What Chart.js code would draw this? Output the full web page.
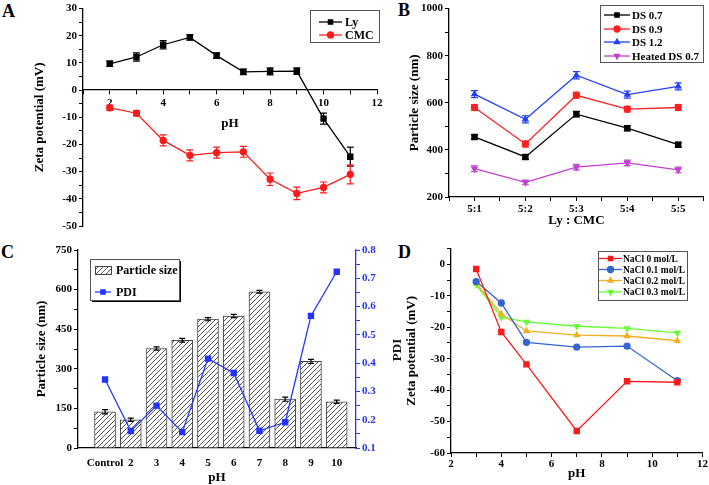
<!DOCTYPE html>
<html>
<head>
<meta charset="utf-8">
<script src="https://cdn.jsdelivr.net/npm/chart.js@4.4.0/dist/chart.umd.min.js"></script>
<style>
body { margin: 0; background: #fff; width: 709px; height: 485px; position: relative; overflow: hidden; }
canvas { position: absolute; }
.tag { position: absolute; font: bold 18px 'Liberation Serif', serif; line-height: 18px; }
.side { position: absolute; font: bold 13px 'Liberation Serif', serif; color: #111; transform: rotate(-90deg); transform-origin: center; white-space: nowrap; }
</style>
</head>
<body>
<div class="tag" style="left:2px;top:2px">A</div>
<div class="tag" style="left:398px;top:1px">B</div>
<div class="tag" style="left:1px;top:243px">C</div>
<div class="tag" style="left:398px;top:243px">D</div>

<canvas id="chartA" width="385" height="240" style="left:0;top:0"></canvas>
<canvas id="chartB" width="349" height="240" style="left:360px;top:0"></canvas>
<canvas id="chartC" width="405" height="245" style="left:0;top:240px"></canvas>
<canvas id="chartD" width="329" height="245" style="left:380px;top:240px"></canvas>
<div class="side" style="left:385px;top:342px;width:24px;text-align:center">PDI</div>

<script>
// ---- Panel A: zeta potential vs pH
const phA = [2, 3, 4, 5, 6, 7, 8, 9, 10, 11];
const lyZeta = [9.7, 12.2, 16.7, 19.4, 12.7, 6.7, 6.9, 7.0, -10.5, -24.5];
const lyErr = [1, 1.5, 1.5, 1, 1, 1, 1.3, 1.2, 2, 3.5];
const cmcZeta = [-6.5, -8.5, -18.5, -24, -23, -22.7, -32.8, -38, -35.8, -31];
const cmcErr = [1, 1, 2, 2, 2, 2, 2.3, 2.3, 2, 3.5];

// ---- Panel B: particle size vs Ly : CMC ratio
const ratioLabels = ['5:1', '5:2', '5:3', '5:4', '5:5'];
const ds07 = [455, 370, 552, 492, 422];
const ds07Err = [10, 10, 12, 10, 10];
const ds09 = [580, 425, 632, 573, 580];
const ds09Err = [12, 12, 12, 12, 12];
const ds12 = [637, 530, 717, 635, 670];
const ds12Err = [15, 15, 15, 15, 15];
const heated07 = [320, 262, 327, 345, 315];
const heated07Err = [12, 10, 12, 12, 12];

// ---- Panel C: particle size bars + PDI line
const phLabelsC = ['Control', '2', '3', '4', '5', '6', '7', '8', '9', '10'];
const sizeC = [137, 107, 377, 408, 488, 500, 592, 185, 328, 175];
const sizeErr = [8, 6, 6, 7, 6, 6, 5, 8, 8, 6];
const pdiC = [0.342, 0.16, 0.25, 0.156, 0.416, 0.365, 0.161, 0.191, 0.567, 0.723];

// ---- Panel D: zeta potential with NaCl
const phD = [3, 4, 5, 7, 9, 11];
const nacl0 = [-1.5, -21.5, -31.8, -53, -37.2, -37.5];
const nacl01 = [-5.5, -12.3, -24.8, -26.3, -26, -37];
const nacl02 = [-6, -15.8, -21.2, -22.5, -22.8, -24.3];
const nacl03 = [-6.5, -16.8, -18.3, -19.7, -20.4, -21.8];

Chart.defaults.font.family = "'Liberation Serif', 'Times New Roman', serif";
Chart.defaults.font.weight = 'bold';
Chart.defaults.font.size = 11;
Chart.defaults.color = '#000';

const pts = (xs, ys) => xs.map((x, i) => ({ x: x, y: ys[i] }));

// hatch fill for the bars
function makeHatch() {
    const c = document.createElement('canvas');
    c.width = 5; c.height = 5;
    const g = c.getContext('2d');
    g.fillStyle = '#fff';
    g.fillRect(0, 0, 5, 5);
    g.strokeStyle = '#555';
    g.lineWidth = 1;
    g.beginPath();
    g.moveTo(0, 5); g.lineTo(5, 0);
    g.moveTo(-1, 1); g.lineTo(1, -1);
    g.moveTo(4, 6); g.lineTo(6, 4);
    g.stroke();
    return document.getElementById('chartC').getContext('2d').createPattern(c, 'repeat');
}
const hatch = makeHatch();

// error bars from dataset.errors
const errorBars = {
    id: 'errorBars',
    afterDatasetsDraw(chart) {
        const ctx = chart.ctx;
        chart.data.datasets.forEach((ds, i) => {
            if (!ds.errors) return;
            const meta = chart.getDatasetMeta(i);
            const yScale = chart.scales[meta.yAxisID];
            ctx.save();
            ctx.strokeStyle = ds.errorColor || ds.borderColor;
            ctx.lineWidth = 1.2;
            meta.data.forEach((el, j) => {
                const d = ds.data[j];
                const v = typeof d === 'object' ? d.y : d;
                const e = ds.errors[j];
                const x = el.x;
                const y1 = yScale.getPixelForValue(v + e);
                const y2 = yScale.getPixelForValue(v - e);
                const cap = ds.capWidth || 3.5;
                ctx.beginPath();
                ctx.moveTo(x, y1); ctx.lineTo(x, y2);
                ctx.moveTo(x - cap, y1); ctx.lineTo(x + cap, y1);
                ctx.moveTo(x - cap, y2); ctx.lineTo(x + cap, y2);
                ctx.stroke();
            });
            ctx.restore();
        });
    }
};

// boxed legend placed in page coordinates
const boxLegend = {
    id: 'boxLegend',
    afterDraw(chart, args, o) {
        if (!o || !o.rows) return;
        const ctx = chart.ctx;
        const ox = chart.canvas.offsetLeft, oy = chart.canvas.offsetTop;
        ctx.save();
        ctx.translate(-ox, -oy);
        if (o.shadow) {
            ctx.fillStyle = '#000';
            ctx.fillRect(o.x + 2, o.y + 2, o.w, o.h);
        }
        ctx.fillStyle = '#fff';
        ctx.fillRect(o.x, o.y, o.w, o.h);
        ctx.strokeStyle = '#555';
        ctx.lineWidth = 1;
        ctx.strokeRect(o.x + 0.5, o.y + 0.5, o.w, o.h);
        chart.data.datasets.forEach((ds, i) => {
            const yy = o.rows[i];
            if (ds.type === 'bar' || (!ds.type && chart.config.type === 'bar')) {
                ctx.fillStyle = ds.backgroundColor;
                ctx.fillRect(o.lineX, yy - 4, o.lineLen, 8);
                ctx.strokeStyle = ds.borderColor;
                ctx.strokeRect(o.lineX + 0.5, yy - 3.5, o.lineLen, 8);
            } else {
                ctx.strokeStyle = ds.borderColor;
                ctx.lineWidth = 1.3;
                ctx.beginPath();
                ctx.moveTo(o.lineX, yy);
                ctx.lineTo(o.lineX + o.lineLen, yy);
                ctx.stroke();
                ctx.fillStyle = ds.backgroundColor;
                Chart.helpers.drawPoint(ctx, {
                    pointStyle: ds.pointStyle, radius: 3, rotation: ds.pointRotation || 0, borderWidth: 1
                }, o.lineX + o.lineLen / 2, yy);
            }
            ctx.fillStyle = '#000';
            ctx.font = 'bold ' + o.fontSize + "px 'Liberation Serif', serif";
            ctx.textBaseline = 'middle';
            ctx.fillText(ds.label, o.textX, yy + 1);
        });
        ctx.restore();
    }
};

function axis(extra) {
    return Object.assign({
        type: 'linear',
        border: { color: '#000', width: 1.3 },
        grid: { drawOnChartArea: false, tickLength: 4, color: '#000' }
    }, extra);
}

function title(text, pad) {
    return { display: true, text: text, font: { size: 13, weight: 'bold' }, padding: pad };
}

const baseOptions = (padding, scales, legend) => ({
    responsive: false,
    animation: false,
    layout: { padding: padding },
    scales: scales,
    plugins: { legend: { display: false }, tooltip: { enabled: false }, boxLegend: legend }
});

function lineSet(label, xs, ys, color, style, errors, rotation) {
    return {
        label: label,
        data: pts(xs, ys),
        borderColor: color,
        backgroundColor: color,
        borderWidth: 1.3,
        pointStyle: style,
        pointRotation: rotation || 0,
        pointRadius: style === 'rect' ? 3.6 : 3,
        errors: errors,
        clip: false
    };
}

// ---- A
new Chart(document.getElementById('chartA'), {
    type: 'line',
    data: {
        datasets: [
            lineSet('Ly', phA, lyZeta, '#000', 'rect', lyErr),
            lineSet('CMC', phA, cmcZeta, '#ff1a1a', 'circle', cmcErr)
        ]
    },
    options: baseOptions({ left: 0, top: 7, right: 8, bottom: 14 }, {
        x: axis({
            position: { y: 0 }, min: 1, max: 12,
            ticks: { stepSize: 1, autoSkip: false, maxRotation: 0, padding: 2,
                callback: v => (v % 2 === 0 ? v : '') },
            title: title('pH', { top: 0, bottom: 4 }),
            afterFit: s => { s.height = 45; }
        }),
        y: axis({
            min: -50, max: 30,
            ticks: { stepSize: 5, autoSkip: false, padding: 2,
                callback: v => (v % 10 === 0 ? v : '') },
            title: title('Zeta potential (mV)', { top: 32, bottom: 0 }),
            afterFit: s => { s.width = 83; }
        })
    }, { x: 310, y: 10, w: 69, h: 32, rows: [22, 35], lineX: 319, lineLen: 23, textX: 345, fontSize: 12 }),
    plugins: [errorBars, boxLegend]
});

// ---- B
const ratioX = ratioLabels.map((r, i) => i + 1);
new Chart(document.getElementById('chartB'), {
    type: 'line',
    data: {
        datasets: [
            lineSet('DS 0.7', ratioX, ds07, '#000', 'rect', ds07Err),
            lineSet('DS 0.9', ratioX, ds09, '#ff2020', 'circle', ds09Err),
            lineSet('DS 1.2', ratioX, ds12, '#2040ff', 'triangle', ds12Err),
            lineSet('Heated DS 0.7', ratioX, heated07, '#c040d0', 'triangle', heated07Err, 180)
        ]
    },
    options: baseOptions({ left: 0, top: 5, right: 1, bottom: 0 }, {
        x: axis({
            min: 0.5, max: 5.5,
            ticks: { stepSize: 0.5, autoSkip: false, maxRotation: 0, padding: 2,
                callback: v => (Number.isInteger(v) ? ratioLabels[v - 1] : '') },
            title: title('Ly : CMC', { top: 0, bottom: 12 }),
            afterFit: s => { s.height = 43; }
        }),
        y: axis({
            min: 200, max: 1000,
            ticks: { stepSize: 100, autoSkip: false, padding: 2,
                callback: v => (v % 200 === 0 ? v : '') },
            title: title('Particle size (nm)', { top: 47, bottom: 0 }),
            afterFit: s => { s.width = 89; }
        })
    }, { x: 600, y: 5, w: 103, h: 57, rows: [15, 29, 42, 56], lineX: 604, lineLen: 26, textX: 632, fontSize: 11 }),
    plugins: [errorBars, boxLegend]
});

// ---- C
const posC = phLabelsC.map((l, i) => i + 1);
new Chart(document.getElementById('chartC'), {
    type: 'bar',
    data: {
        datasets: [
            {
                type: 'bar',
                label: 'Particle size',
                data: pts(posC, sizeC),
                backgroundColor: hatch,
                borderColor: '#444',
                borderWidth: 1,
                barThickness: 21,
                errors: sizeErr,
                errorColor: '#000',
                capWidth: 3,
                yAxisID: 'y',
                order: 1
            },
            {
                type: 'line',
                label: 'PDI',
                data: pts(posC, pdiC),
                borderColor: '#2233ff',
                backgroundColor: '#2233ff',
                borderWidth: 1.3,
                pointStyle: 'rect',
                pointRadius: 3.6,
                yAxisID: 'y1',
                order: 0
            }
        ]
    },
    options: baseOptions({ left: 0, top: 10, right: 0, bottom: 0 }, {
        x: axis({
            min: -0.05, max: 10.75, offset: false,
            grid: { display: false, drawTicks: false, offset: false },
            ticks: { stepSize: 1, autoSkip: false, maxRotation: 0, padding: 9, includeBounds: false,
                callback: v => (Number.isInteger(v) && v >= 1 ? phLabelsC[v - 1] : '') },
            title: title('pH', { top: 0, bottom: 0 }),
            afterFit: s => { s.height = 37; }
        }),
        y: axis({
            position: 'left', min: 0, max: 750,
            ticks: { stepSize: 75, autoSkip: false, padding: 2,
                callback: v => (v % 150 === 0 ? v : '') },
            title: title('Particle size (nm)', { top: 34, bottom: 0 }),
            afterFit: s => { s.width = 78; }
        }),
        y1: axis({
            position: 'right', min: 0.1, max: 0.8,
            border: { color: '#2233ff', width: 1.3 },
            grid: { drawOnChartArea: false, tickLength: 4, color: '#2233ff' },
            ticks: { stepSize: 0.05, autoSkip: false, padding: 2, color: '#2233ff',
                callback: v => (Math.abs(v * 10 - Math.round(v * 10)) < 1e-6 ? v.toFixed(1) : '') },
            afterFit: s => { s.width = 49; }
        })
    }, { x: 90, y: 259, w: 89, h: 41, rows: [270, 292], lineX: 95, lineLen: 16, textX: 116, fontSize: 12, shadow: true }),
    plugins: [errorBars, boxLegend]
});

// ---- D
new Chart(document.getElementById('chartD'), {
    type: 'line',
    data: {
        datasets: [
            lineSet('NaCl 0 mol/L', phD, nacl0, '#ff1a1a', 'rect'),
            lineSet('NaCl 0.1 mol/L', phD, nacl01, '#3366cc', 'circle'),
            lineSet('NaCl 0.2 mol/L', phD, nacl02, '#f0b020', 'triangle'),
            lineSet('NaCl 0.3 mol/L', phD, nacl03, '#66ff33', 'triangle', null, 180)
        ]
    },
    options: baseOptions({ left: 0, top: 5, right: 6, bottom: 0 }, {
        x: axis({
            min: 2, max: 12,
            ticks: { stepSize: 1, autoSkip: false, maxRotation: 0, padding: 1,
                callback: v => (v % 2 === 0 ? v : '') },
            title: title('pH', { top: 0, bottom: 4 }),
            afterFit: s => { s.height = 32; }
        }),
        y: axis({
            min: -60, max: 5,
            ticks: { stepSize: 5, autoSkip: false, padding: 2,
                callback: v => (v % 10 === 0 && v <= 0 ? v : '') },
            title: title('Zeta potential (mV)', { top: 24, bottom: 0 }),
            afterFit: s => { s.width = 71; }
        })
    }, { x: 598, y: 251, w: 89, h: 49, rows: [258.5, 269.5, 280.5, 292], lineX: 599, lineLen: 23, textX: 623, fontSize: 9.5 }),
    plugins: [boxLegend]
});
</script>
</body>
</html>
